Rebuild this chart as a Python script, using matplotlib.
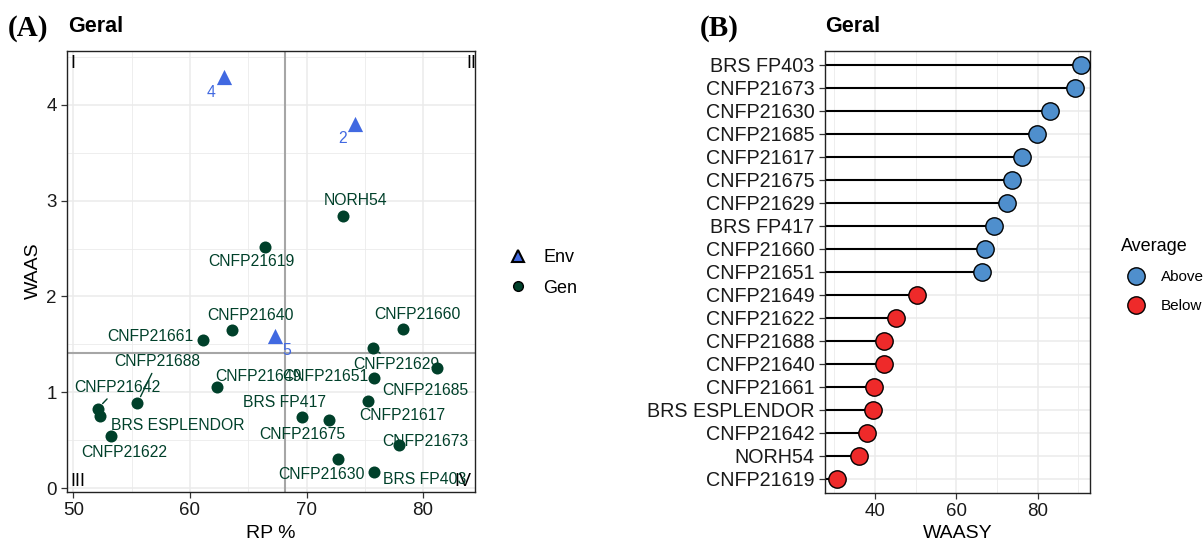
import matplotlib.pyplot as plt
from matplotlib.lines import Line2D

plt.rcParams['font.family'] = ['Liberation Sans', 'DejaVu Sans']

# ---- panel A: WAAS vs RP% biplot ----
gen_names = ["NORH54", "CNFP21619", "CNFP21640", "CNFP21661", "CNFP21660",
             "CNFP21629", "CNFP21651", "CNFP21685", "CNFP21617", "CNFP21673",
             "BRS FP403", "CNFP21630", "BRS FP417", "CNFP21675", "CNFP21649",
             "CNFP21688", "CNFP21642", "BRS ESPLENDOR", "CNFP21622"]
gen_rp = [73.1, 66.4, 63.6, 61.1, 78.3,
          75.7, 75.8, 81.2, 75.3, 77.9,
          75.8, 72.7, 69.6, 71.9, 62.3,
          55.5, 52.1, 52.3, 53.2]
gen_waas = [2.84, 2.52, 1.65, 1.55, 1.66,
            1.46, 1.15, 1.25, 0.91, 0.45,
            0.17, 0.30, 0.74, 0.71, 1.06,
            0.89, 0.83, 0.75, 0.54]

env_names = ["4", "2", "5"]
env_rp = [62.9, 74.2, 67.3]
env_waas = [4.29, 3.80, 1.59]

mean_rp = 68.15
mean_waas = 1.41

# ---- panel B: WAASY ranking ----
waasy_names = ["BRS FP403", "CNFP21673", "CNFP21630", "CNFP21685", "CNFP21617",
               "CNFP21675", "CNFP21629", "BRS FP417", "CNFP21660", "CNFP21651",
               "CNFP21649", "CNFP21622", "CNFP21688", "CNFP21640", "CNFP21661",
               "BRS ESPLENDOR", "CNFP21642", "NORH54", "CNFP21619"]
waasy = [90.7, 89.1, 83.1, 79.9, 76.1,
         73.8, 72.4, 69.4, 67.1, 66.4,
         50.4, 45.1, 42.3, 42.2, 39.8,
         39.6, 38.0, 36.1, 30.7]
waasy_group = ["Above"] * 10 + ["Below"] * 9

GEN_COL = "#00402a"
ENV_COL = "#4169e1"
GRID = "#ebebeb"
group_col = {"Above": "#4f8fcd", "Below": "#ee2a2a"}

# label offsets in pixels (dx, dy), dy up
gen_off = {
    "NORH54": (13, 15), "CNFP21619": (-13, -15), "CNFP21640": (19, 15),
    "CNFP21661": (-52, 3), "CNFP21660": (14, 15), "CNFP21629": (23, -16),
    "CNFP21651": (-49, 1), "CNFP21685": (-12, -22), "CNFP21617": (34, -15),
    "CNFP21673": (27, 4), "BRS FP403": (51, -8), "CNFP21630": (-16, -15),
    "BRS FP417": (-17, 15), "CNFP21675": (-26, -14), "CNFP21649": (42, 10),
    "CNFP21688": (20, 41), "CNFP21642": (20, 21), "BRS ESPLENDOR": (78, -9),
    "CNFP21622": (14, -16),
}
with_segment = ["CNFP21629", "CNFP21688", "CNFP21642"]
env_off = {"4": (-13, -16), "2": (-13, -15), "5": (12, -15)}

fig = plt.figure(figsize=(12.04, 5.45), dpi=100)
axA = fig.add_axes([0.0556, 0.0972, 0.3389, 0.8092])
axB = fig.add_axes([0.6852, 0.0963, 0.2201, 0.8101])


def style_axes(ax):
    for s in ax.spines.values():
        s.set_color("#222222")
        s.set_linewidth(1.0)
    ax.tick_params(which="major", length=4, width=0.9, color="#333333",
                   labelsize=13.5, labelcolor="#1a1a1a")
    ax.tick_params(which="minor", length=0)
    ax.grid(which="major", color=GRID, linewidth=1.1, zorder=0)
    ax.grid(which="minor", color=GRID, linewidth=0.6, zorder=0)
    ax.set_axisbelow(True)


# panel A
style_axes(axA)
axA.set_xlim(49.45, 84.45)
axA.set_ylim(-0.04, 4.56)
axA.set_xticks([50, 60, 70, 80])
axA.set_xticks([55, 65, 75], minor=True)
axA.set_yticks([0, 1, 2, 3, 4])
axA.set_yticks([0.5, 1.5, 2.5, 3.5, 4.5], minor=True)
axA.axvline(mean_rp, color="#a6a6a6", lw=1.5, zorder=1)
axA.axhline(mean_waas, color="#a6a6a6", lw=1.5, zorder=1)

axA.scatter(gen_rp, gen_waas, s=75, color=GEN_COL, zorder=3, linewidths=0)
axA.scatter(env_rp, env_waas, s=120, marker="^", color=ENV_COL, zorder=3, linewidths=0)

for name, x, y in zip(gen_names, gen_rp, gen_waas):
    dx, dy = gen_off[name]
    kw = {}
    if name in with_segment:
        kw["arrowprops"] = dict(arrowstyle="-", color=GEN_COL, lw=1.0,
                                shrinkA=1, shrinkB=5)
    axA.annotate(name, (x, y), xytext=(dx, dy), textcoords="offset pixels",
                 ha="center", va="center", fontsize=11.3, color=GEN_COL,
                 zorder=4, **kw)
for name, x, y in zip(env_names, env_rp, env_waas):
    dx, dy = env_off[name]
    axA.annotate(name, (x, y), xytext=(dx, dy), textcoords="offset pixels",
                 ha="center", va="center", fontsize=11.3, color=ENV_COL, zorder=4)

# quadrant numbers
axA.text(0.014, 0.972, "I", transform=axA.transAxes, ha="center", va="center", fontsize=13)
axA.text(0.99, 0.972, "II", transform=axA.transAxes, ha="center", va="center", fontsize=13)
axA.text(0.026, 0.025, "III", transform=axA.transAxes, ha="center", va="center", fontsize=13)
axA.text(0.97, 0.025, "IV", transform=axA.transAxes, ha="center", va="center", fontsize=13)

axA.set_xlabel("RP %", fontsize=14, labelpad=4)
fig.text(33 / 1204, 1 - 271 / 545, "WAAS", rotation=90, ha="center", va="center", fontsize=14)

handles = [Line2D([], [], marker="^", ls="none", markersize=9, markerfacecolor=ENV_COL,
                  markeredgecolor="black", markeredgewidth=1.5),
           Line2D([], [], marker="o", ls="none", markersize=7, markerfacecolor=GEN_COL,
                  markeredgecolor="black", markeredgewidth=1.0)]
fig.legend(handles, ["Env", "Gen"], loc="center left", bbox_to_anchor=(484 / 1204, 1 - 273 / 545),
           frameon=False, fontsize=13, handletextpad=0.4, labelspacing=0.75)

# panel B
style_axes(axB)
n = len(waasy_names)
rows = list(range(n))
axB.set_xlim(27.7, 92.9)
axB.set_ylim(n - 0.4, -0.6)
axB.set_xticks([40, 60, 80])
axB.set_xticks([30, 50, 70, 90], minor=True)
axB.set_yticks(rows)
axB.set_yticklabels(waasy_names, fontsize=14.2)
axB.hlines(rows, 0, waasy, color="black", lw=1.5, zorder=2)
for g in ["Above", "Below"]:
    idx = [i for i in rows if waasy_group[i] == g]
    axB.plot([waasy[i] for i in idx], idx, "o", ls="none", markersize=12.5,
             markerfacecolor=group_col[g], markeredgecolor="black",
             markeredgewidth=1.0, zorder=3, label=g)
axB.set_xlabel("WAASY", fontsize=14, labelpad=4)

leg = fig.legend(*axB.get_legend_handles_labels(), loc="upper left",
                 bbox_to_anchor=(1107 / 1204, 1 - 224 / 545), frameon=False,
                 fontsize=11, title="Average", title_fontsize=13,
                 handletextpad=0.6, labelspacing=1.0)
leg._legend_box.align = "left"

# panel captions
fig.text(8 / 1204, 1 - 28 / 545, "(A)", family="Liberation Serif", weight="bold",
         fontsize=21, ha="left", va="center")
fig.text(68 / 1204, 1 - 26 / 545, "Geral", weight="bold", fontsize=15.5, ha="left", va="center")
fig.text(700 / 1204, 1 - 28 / 545, "(B)", family="Liberation Serif", weight="bold",
         fontsize=21, ha="left", va="center")
fig.text(825 / 1204, 1 - 26 / 545, "Geral", weight="bold", fontsize=15.5, ha="left", va="center")

fig.savefig("out.png", dpi=100, facecolor="white")
